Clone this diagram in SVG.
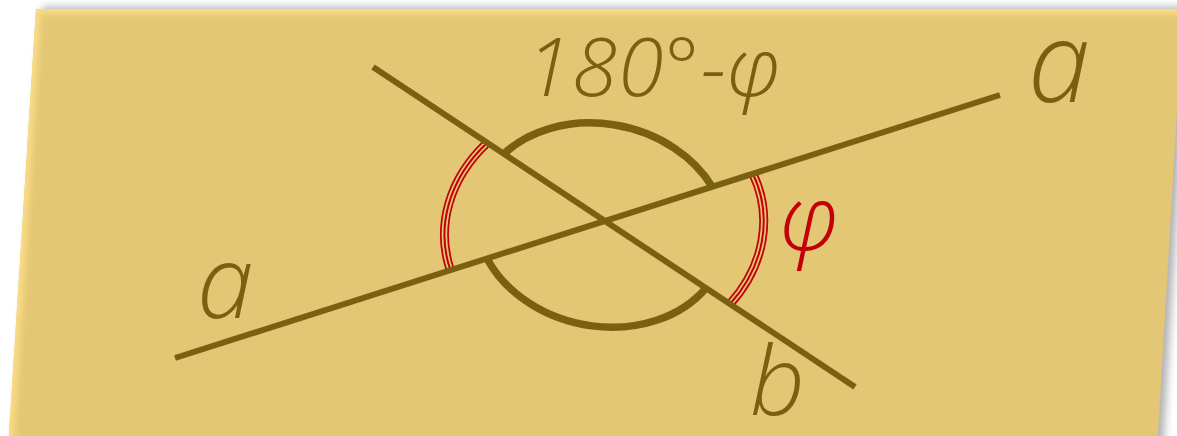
<svg xmlns="http://www.w3.org/2000/svg" width="1177" height="436" viewBox="0 0 1177 436">
  <style>
    .line { stroke: #7a6112; stroke-width: 6; stroke-linecap: butt; fill: none; }
    .arc { stroke: #7a6112; stroke-width: 7.5; fill: none; }
    .r1 { stroke: #c20008; stroke-width: 9; fill: none; }
    .r2 { stroke: #e4c775; stroke-width: 5.5; fill: none; }
    .r3 { stroke: #c20008; stroke-width: 2; fill: none; }
    .lbl { font-family: "Open Sans", "Noto Sans", sans-serif; font-style: italic; font-weight: 350; fill: #7a6112; }
    .red { fill: #c20008; }
  </style>
  <defs>
    <filter id="shadow" x="-10%" y="-10%" width="120%" height="130%">
      <feGaussianBlur stdDeviation="4"/>
    </filter>
    <filter id="glow" x="-10%" y="-10%" width="120%" height="130%">
      <feGaussianBlur stdDeviation="3"/>
    </filter>
    <clipPath id="sheetClip">
      <polygon points="36,9 1183,9 1157,450 8,450"/>
    </clipPath>
    <path id="redL" d="M487,143 A160,132 -7.6 0 0 450,269"/>
    <path id="redR" d="M753,174 A160,132 -7.6 0 1 730,304"/>
  </defs>

  <g id="sheet">
    <polygon points="42,7 1189,7 1163,452 14,452" fill="#000" opacity="0.3" filter="url(#shadow)"/>
    <polygon points="36,9 1183,9 1157,450 8,450" fill="#e4c775"/>
    <g clip-path="url(#sheetClip)">
      <polyline points="8,452 36,9 1183,9" fill="none" stroke="#fbdc86" stroke-width="10" filter="url(#glow)"/>
    </g>
  </g>

  <g id="angle-phi">
    <use href="#redL" class="r1"/>
    <use href="#redL" class="r2"/>
    <use href="#redL" class="r3"/>
    <use href="#redR" class="r1"/>
    <use href="#redR" class="r2"/>
    <use href="#redR" class="r3"/>
  </g>

  <g id="angle-supplement">
    <path class="arc" d="M504,153.7 A126,101 12 0 1 712,186.5"/>
    <path class="arc" d="M487,258.5 A126,101 12 0 0 706,288"/>
  </g>

  <g id="lines">
    <line id="line-a" class="line" x1="175" y1="358" x2="1000" y2="95"/>
    <line id="line-b" class="line" x1="373" y1="67" x2="855" y2="387"/>
  </g>

  <g id="labels">
    <text class="lbl" x="526" y="96" font-size="82" letter-spacing="1">180°-φ</text>
    <text class="lbl" x="1028" y="102" font-size="112">a</text>
    <text class="lbl" x="197" y="318" font-size="102">a</text>
    <text class="lbl" x="750" y="415" font-size="96">b</text>
    <text class="lbl red" x="780" y="250" font-size="90">φ</text>
  </g>
</svg>
